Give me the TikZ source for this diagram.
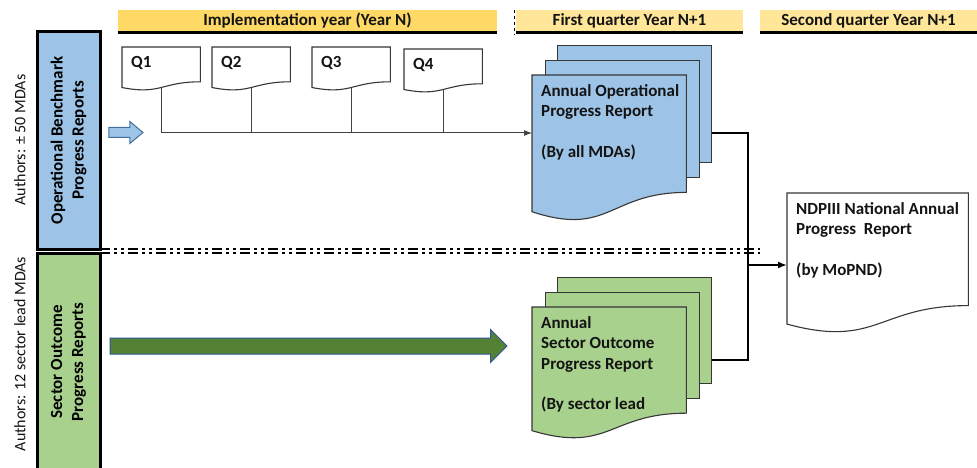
\documentclass[tikz,border=0pt]{standalone}
\usepackage{fontspec}
\setmainfont{Carlito}
\usetikzlibrary{arrows.meta,positioning,shapes.arrows,calc,backgrounds}
\definecolor{sun}{RGB}{255,217,102}
\definecolor{sand}{RGB}{255,230,153}
\definecolor{sky}{RGB}{157,195,230}
\definecolor{sage}{RGB}{169,209,142}
\definecolor{moss}{RGB}{84,130,53}
\definecolor{steel}{RGB}{47,85,151}
\definecolor{denim}{RGB}{65,113,156}
\definecolor{ink}{RGB}{20,20,20}
\tikzset{
  >={Latex[length=8pt,width=6pt]},
  bar/.style={fill=#1,minimum height=21pt,inner sep=0pt,text=ink,
    font=\fontsize{17}{19}\selectfont\bfseries},
  lane/.style={rotate=90,draw=black,line width=3pt,fill=#1,minimum width=217pt,
    minimum height=63pt,inner sep=0pt,align=center,font=\fontsize{17}{21}\selectfont\bfseries},
  who/.style={rotate=90,text=ink,font=\fontsize{16}{18}\selectfont},
  page/.style 2 args={minimum width=#1,minimum height=#2,anchor=north west,inner sep=0pt},
  words/.style={anchor=north west,inner xsep=9pt,inner ysep=9pt,align=left,text=ink,
    font=\fontsize{17}{20.5}\selectfont\bfseries},
  sheet/.style 2 args={draw=ink!85,line width=1.1pt,fill=#1,anchor=north west,
    minimum width=154pt,minimum height=#2,inner sep=0pt},
  link/.style={draw=ink!80,line width=1pt},
  trunk/.style={draw=black,line width=2.4pt},
  divider/.style={line width=1.9pt,dash pattern=on 10pt off 4pt on 3pt off 4pt on 3pt off 4pt},
  block/.style={single arrow,draw=#1,line width=1pt,inner xsep=0pt,minimum width=0pt},
}
\begin{document}
\begin{tikzpicture}[x=1pt,y=-1pt]
  \useasboundingbox (0,0) rectangle (977,468);
  % time bars
  \node[bar=sun,minimum width=379pt] (yearN) at (307.5,20.5) {Implementation year (Year N)};
  \node[bar=sand,minimum width=227pt] (firstQ) at (629.5,20.5) {First quarter Year N+1};
  \node[bar=sand,minimum width=217pt] (secondQ) at (868.5,20.5) {Second quarter Year N+1};
  \foreach \b in {yearN,firstQ,secondQ}
    \draw[line width=3pt] ([yshift=-1.5pt]\b.south west) -- ([yshift=-1.5pt]\b.south east);
  \draw[dashed,line width=1pt] ([xshift=-1.5pt]firstQ.north west) -- ([xshift=-1.5pt,yshift=-3pt]firstQ.south west);

  % swim lanes
  \node[lane=sky] (ops) at (68.5,140.5) {Operational Benchmark\\Progress Reports};
  \node[lane=sage] (sec) at (68.5,362) {Sector Outcome\\Progress Reports};
  \node[who] (opsby) at (20,140) {Authors: ± 50 MDAs};
  \node[who] (secby) at (20,354) {Authors: 12 sector lead MDAs};
  \coordinate (divL) at (100,251);
  \coordinate (divR) at (760,251);
  \draw[divider] ([yshift=2.2pt]divL) -- ([yshift=2.2pt]divR);
  \draw[divider] ([yshift=-2.2pt]divL) -- ([yshift=-2.2pt]divR);

  % quarterly reports
  \foreach \q/\x/\y [count=\i] in {Q1/122/47,Q2/212/47,Q3/312/47,Q4/404/49}{
    \node[page={78pt}{43pt}] (q\i) at (\x,\y) {};
    \node[words] (lbl\i) at (q\i.north west) {\q};
  }
  \node[page={154pt}{146pt}] (apr) at (532,75) {};
  \node[words] (aprtxt) at (apr.north west) {Annual Operational\\Progress Report\\[20pt](By all MDAs)};
  \node[page={154pt}{132pt}] (sor) at (532,307) {};
  \node[words] (sortxt) at (sor.north west) {Annual\\Sector Outcome\\Progress Report\\[20pt](By sector lead};
  \node[page={181pt}{140pt}] (nar) at (787,193) {};
  \node[words] (nartxt) at (nar.north west) {NDPIII National Annual\\Progress\ \ Report\\[20pt](by MoPND)};

  \begin{scope}[on background layer]
    \fill[white] (0,0) rectangle (977,468);
    \foreach \p/\c/\h in {apr/sky/117pt,sor/sage/106pt}{
      \node[sheet={\c}{\h}] (\p-back) at ($(\p.north west)+(25,-30)$) {};
      \node[sheet={\c}{\h}] (\p-mid) at ($(\p.north west)+(12.5,-15)$) {};
    }
    \foreach \p/\c in {q1/white,q2/white,q3/white,q4/white,apr/sky,sor/sage,nar/white}
      \filldraw[fill=\c,draw=ink!85,line width=1.1pt] (\p.north west) -- (\p.north east)
        -- ($(\p.north east)!.802!(\p.south east)$)
        .. controls ($(\p.north)!.802!(\p.south)$) and ($(\p.north)!1.108!(\p.south)$)
        .. ($(\p.north west)!.934!(\p.south west)$) -- cycle;
  \end{scope}

  % block arrows
  \node[block=denim,fill=sky,minimum height=34pt,inner ysep=4.5pt,
    single arrow head extend=6pt,single arrow tip angle=80] (opsgo) at (123,132.5) {};
  \node[block=steel,fill=moss,minimum height=397pt,inner ysep=7.5pt,
    single arrow head extend=8.5pt] (secgo) at (304.5,346) {};

  % connectors
  \coordinate (bus) at (0,133);
  \coordinate (jn) at (748,265);
  \foreach \i in {1,...,4}
    \coordinate (q\i-foot) at ($(q\i.north)!.93!(q\i.south)$);
  \draw[link,->] (q1-foot) |- (bus -| apr.west);
  \foreach \i in {2,3,4}
    \draw[link] (q\i-foot) -- (q\i-foot |- bus);
  \draw[trunk] (apr-back.east |- bus) -| (jn) |- (sor-back.east |- 0,360);
  \draw[trunk,-{Latex[length=9pt,width=7pt]}] (jn) -- (jn -| nar.west);
\end{tikzpicture}
\end{document}
